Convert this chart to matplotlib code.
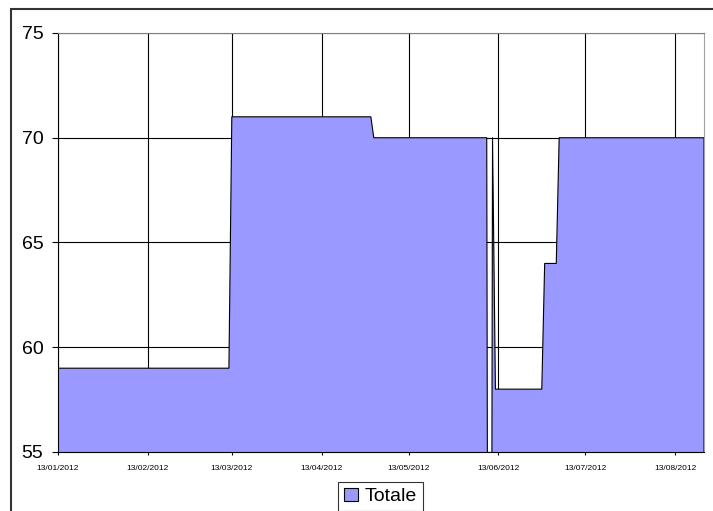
import matplotlib.pyplot as plt
import matplotlib.dates as mdates
import matplotlib.patches as patches
import numpy as np

plt.rcParams['font.family'] = ['Liberation Sans', 'DejaVu Sans']

# vertices of the "Totale" series (daily data, only the points where it changes)
dates = ['2012-01-13', '2012-03-12', '2012-03-13', '2012-04-30', '2012-05-01',
         '2012-06-09', '2012-06-10', '2012-06-11', '2012-06-12', '2012-06-28',
         '2012-06-29', '2012-07-03', '2012-07-04', '2012-08-23']
totale = [59, 59, 71, 71, 70,
          70, 0, 70, 58, 58,
          64, 64, 70, 70]

tick_dates = ['2012-01-13', '2012-02-13', '2012-03-13', '2012-04-13',
              '2012-05-13', '2012-06-13', '2012-07-13', '2012-08-13']
y_ticks = [55, 60, 65, 70, 75]

x = np.array(dates, dtype='datetime64[D]')
xt = np.array(tick_dates, dtype='datetime64[D]')

W, H = 713, 511
fig = plt.figure(figsize=(W / 100, H / 100), dpi=100)
ax = fig.add_axes([58 / W, 1 - 452 / H, (704 - 58) / W, (452 - 33) / H])

ax.fill_between(x, totale, 0, facecolor='#9999ff', edgecolor='black',
                linewidth=0.8, label='Totale', zorder=2)

ax.set_ylim(55, 75)
ax.set_xlim(x[0], x[-1])
ax.set_yticks(y_ticks)
ax.set_xticks(xt)
ax.xaxis.set_major_formatter(mdates.DateFormatter('%d/%m/%Y'))

ax.grid(True, color='black', linewidth=0.8, zorder=0)
ax.set_axisbelow(True)

ax.tick_params(axis='y', labelsize=14, length=4.5, width=0.8, pad=6, direction='out')
ax.tick_params(axis='x', labelsize=6, length=2.5, width=0.8, pad=6.5, direction='out')

ax.spines['left'].set_color('black')
ax.spines['bottom'].set_color('black')
ax.spines['top'].set_color('#808080')
ax.spines['right'].set_color('#a0a0a0')
for s in ax.spines.values():
    s.set_linewidth(0.8)

# outer chart border (cut off on the right and bottom)
fig.patches.append(patches.Rectangle((10.5 / W, -0.1), 1.0, 1.1 - 9 / H,
                                     transform=fig.transFigure, fill=False,
                                     edgecolor='#333333', linewidth=1.5))

leg = fig.legend(loc='upper center', bbox_to_anchor=(380.5 / W, 1 - 481.7 / H),
                 fontsize=14, fancybox=False, frameon=True, edgecolor='black',
                 handlelength=0.75, handleheight=0.65, handletextpad=0.35,
                 borderpad=0.3, borderaxespad=0)
leg.get_frame().set_linewidth(0.8)

fig.savefig('out.png', dpi=100)
